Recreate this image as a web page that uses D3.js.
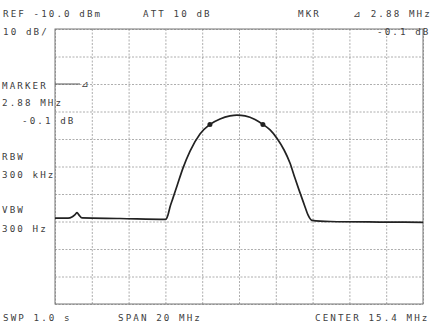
<!DOCTYPE html>
<html>
  <head>
    <script src="https://d3js.org/d3.v7.min.js"></script>
    <style>
      body { margin: 0; background: white; }
      text { font-family: "DejaVu Sans Mono", monospace; font-size: 9.2px; letter-spacing: 2.1px; fill: #404040; }
    </style>
  </head>
  <body>
    <script>
      // trace: frequency (MHz) and level (dBm)
      const freq  = [5.40, 6.11, 6.32, 6.49, 6.60, 6.70, 6.87, 8.93, 11.43, 11.54, 11.65, 11.81, 12.03, 12.36, 12.74, 13.28, 13.82, 14.37, 14.91, 15.29, 15.73, 16.27, 16.70, 17.09, 17.47, 17.85, 18.17, 18.44, 18.66, 18.82, 18.99, 19.15, 19.37, 20.35, 23.07, 25.40];
      const level = [-78.8, -78.8, -78.4, -77.5, -76.8, -77.6, -78.7, -78.9, -79.2, -77.6, -74.7, -71.5, -67.1, -60.5, -54.4, -48.2, -44.7, -42.7, -41.6, -41.3, -41.6, -42.9, -44.7, -46.7, -49.8, -54.0, -58.7, -64.2, -68.5, -71.5, -74.7, -77.6, -79.6, -80.0, -80.2, -80.3];
      const markerFreq = [13.82, 16.70];
      const markerLevel = [-44.7, -44.7];

      const labels = [
        ['REF -10.0 dBm', 3, 17], ['ATT 10 dB', 143, 17], ['MKR', 298, 17], ['\u22BF 2.88 MHz', 353, 17],
        ['10 dB/', 3, 35], ['-0.1 dB', 377, 35],
        ['MARKER', 2, 89], ['2.88 MHz', 2, 106], ['-0.1 dB', 22, 124],
        ['RBW', 2, 160], ['300 kHz', 2, 178], ['VBW', 2, 213], ['300 Hz', 2, 232],
        ['SWP 1.0 s', 3, 321], ['SPAN 20 MHz', 118, 321], ['CENTER 15.4 MHz', 315, 321]
      ];

      const w = 435, h = 325;
      const pL = 55, pR = 423, pT = 29, pB = 304;

      const svg = d3.select('body').append('svg').attr('width', w).attr('height', h);

      const x = d3.scaleLinear().domain([5.4, 25.4]).range([pL, pR]);
      const y = d3.scaleLinear().domain([-110, -10]).range([pB, pT]);

      // grid
      svg.append('g')
         .attr('transform', `translate(0,${pB})`)
         .call(d3.axisBottom(x).tickValues(d3.range(11).map(i => 5.4 + i * 2)).tickSize(-(pB - pT)).tickFormat(''))
         .call(g => g.select('.domain').remove())
         .call(g => g.selectAll('line').attr('stroke', '#999').attr('stroke-dasharray', '2,1.5').attr('stroke-width', 0.8));

      svg.append('g')
         .attr('transform', `translate(${pL},0)`)
         .call(d3.axisLeft(y).tickValues(d3.range(11).map(i => -110 + i * 10)).tickSize(-(pR - pL)).tickFormat(''))
         .call(g => g.select('.domain').remove())
         .call(g => g.selectAll('line').attr('stroke', '#999').attr('stroke-dasharray', '2,1.5').attr('stroke-width', 0.8));

      svg.append('rect')
         .attr('x', pL).attr('y', pT)
         .attr('width', pR - pL).attr('height', pB - pT)
         .attr('fill', 'none').attr('stroke', '#777').attr('stroke-width', 1);

      // marker pointer at the left edge
      svg.append('line')
         .attr('x1', pL).attr('x2', pL + 25)
         .attr('y1', y(-30)).attr('y2', y(-30))
         .attr('stroke', '#555').attr('stroke-width', 1);
      svg.append('text').attr('x', pL + 26).attr('y', y(-30) + 3).text('\u22BF');

      const line = d3.line().x(d => x(d[0])).y(d => y(d[1])).curve(d3.curveMonotoneX);
      svg.append('path')
         .datum(freq.map((f, i) => [f, level[i]]))
         .attr('d', line)
         .attr('fill', 'none')
         .attr('stroke', '#222')
         .attr('stroke-width', 1.7);

      svg.selectAll('circle.mk')
         .data(markerFreq)
         .enter()
         .append('circle')
         .attr('class', 'mk')
         .attr('cx', d => x(d))
         .attr('cy', (d, i) => y(markerLevel[i]))
         .attr('r', 2.5)
         .attr('fill', '#222');

      svg.selectAll('text.lbl')
         .data(labels)
         .enter()
         .append('text')
         .attr('class', 'lbl')
         .attr('x', d => d[1])
         .attr('y', d => d[2])
         .text(d => d[0]);
    </script>
  </body>
</html>
